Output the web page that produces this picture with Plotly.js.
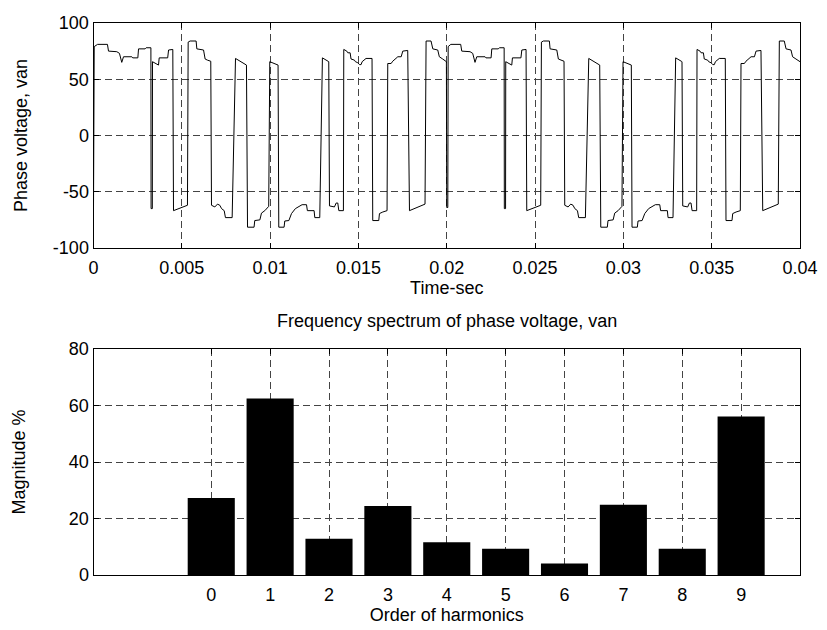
<!DOCTYPE html>
<html>
<head>
<meta charset="utf-8">
<script src="https://cdn.plot.ly/plotly-3.0.1.min.js"></script>
<style>html,body{margin:0;padding:0;background:#fff;}#chart{width:827px;height:630px;}</style>
</head>
<body>
<div id="chart"></div>
<script>
// Phase voltage waveform, first fundamental period (time in s, voltage)
const tPeriod1 = [0, 0.00004, 0.00023, 0.00079, 0.00085, 0.00132, 0.00147, 0.0016, 0.0017, 0.00217,
  0.00222, 0.00251, 0.00255, 0.00292, 0.00298, 0.00325, 0.00326, 0.00333, 0.00334, 0.00368,
  0.00372, 0.0042, 0.00425, 0.00449, 0.00453, 0.00532, 0.00536, 0.00547, 0.00581, 0.00585,
  0.00623, 0.00632, 0.00645, 0.0066, 0.00664, 0.00668, 0.00687, 0.00702, 0.00715, 0.00725,
  0.0074, 0.00747, 0.00785, 0.00804, 0.00866, 0.00872, 0.00909, 0.00913, 0.00942, 0.00951,
  0.0097, 0.00992, 0.00998, 0.01045, 0.01049, 0.01079, 0.01083, 0.01106, 0.01121, 0.01143,
  0.01168, 0.01181, 0.01206, 0.01211, 0.01249, 0.01253, 0.01281, 0.01296, 0.01328, 0.01332,
  0.01336, 0.01364, 0.01374, 0.01383, 0.01389, 0.01415, 0.01417, 0.01434, 0.0144, 0.01453,
  0.01458, 0.01477, 0.01483, 0.01496, 0.01506, 0.01515, 0.01521, 0.01543, 0.01577, 0.01581,
  0.01615, 0.01619, 0.01638, 0.01662, 0.01666, 0.01685, 0.01694, 0.01713, 0.01723, 0.01742,
  0.01751, 0.01779, 0.01789, 0.01877, 0.01881, 0.01883, 0.01911, 0.01921, 0.01949, 0.01958,
  0.01977, 0.01998];
const vPeriod1 = [-64, 79, 81, 81, 75, 74.5, 73, 65, 70, 70,
  69, 69, 77, 77, 78, 78, -65, -65, 65.6, 62.6,
  69, 69, 76, 76.5, -66.8, -62, 83, 84, 84, 77,
  76, 68, 67, 66, 66, -62, -63.5, -61, -62, -65,
  -66.8, -73, -73, 68.5, 62.6, -81.5, -81.5, -75.6, -75, -69,
  -66.8, -63, 65.6, 62.6, -81.5, -81.5, -76, -75.6, -69.4, -65,
  -63, -61.5, -61.5, -66.8, -66.8, -73, -73, 69, 66, 65.6,
  -62.6, -63.5, -60, -60, -66.8, -66.8, 76.5, 75, 73.5, 73.5,
  68, 67, 65.6, 64.7, 63, 63, 65.6, 68.5, 68.5, -75.6,
  -75.6, -69.4, -68, -66.8, 64, 64, 66, 68.5, 70, 70,
  75, 75.6, -66.8, -61, 83, 84, 84, 77, 76, 70,
  68, 65.6];

// Second fundamental period
const tPeriod2 = [0.02, 0.02006, 0.02008, 0.02023, 0.02079, 0.02085, 0.02132, 0.02147, 0.0216, 0.0217,
  0.02217, 0.02222, 0.02251, 0.02255, 0.02292, 0.02298, 0.02325, 0.02326, 0.02333, 0.02334,
  0.02368, 0.02372, 0.0242, 0.02425, 0.02449, 0.02453, 0.02532, 0.02536, 0.02547, 0.02581,
  0.02585, 0.02623, 0.02632, 0.02645, 0.0266, 0.02664, 0.02668, 0.02687, 0.02702, 0.02715,
  0.02725, 0.0274, 0.02747, 0.02785, 0.02804, 0.02866, 0.02872, 0.02909, 0.02913, 0.02942,
  0.02951, 0.0297, 0.02992, 0.02998, 0.03045, 0.03049, 0.03079, 0.03083, 0.03106, 0.03121,
  0.03143, 0.03168, 0.03181, 0.03206, 0.03211, 0.03249, 0.03253, 0.03281, 0.03296, 0.03328,
  0.03332, 0.03336, 0.03364, 0.03374, 0.03383, 0.03389, 0.03415, 0.03417, 0.03434, 0.0344,
  0.03453, 0.03458, 0.03477, 0.03483, 0.03496, 0.03506, 0.03515, 0.03521, 0.03543, 0.03577,
  0.03581, 0.03615, 0.03619, 0.03638, 0.03662, 0.03666, 0.03685, 0.03694, 0.03713, 0.03723,
  0.03742, 0.03751, 0.03779, 0.03789, 0.03877, 0.03881, 0.03883, 0.03911, 0.03921, 0.03949,
  0.03958, 0.03977, 0.04];
const vPeriod2 = [-64, -64, 79, 81, 81, 75, 74.5, 73, 65, 70,
  70, 69, 69, 77, 77, 78, 78, -65, -65, 65.6,
  62.6, 69, 69, 76, 76.5, -66.8, -62, 83, 84, 84,
  77, 76, 68, 67, 66, 66, -62, -63.5, -61, -62,
  -65, -66.8, -73, -73, 68.5, 62.6, -81.5, -81.5, -75.6, -75,
  -69, -66.8, -63, 65.6, 62.6, -81.5, -81.5, -76, -75.6, -69.4,
  -65, -63, -61.5, -61.5, -66.8, -66.8, -73, -73, 69, 66,
  65.6, -62.6, -63.5, -60, -60, -66.8, -66.8, 76.5, 75, 73.5,
  73.5, 68, 67, 65.6, 64.7, 63, 63, 65.6, 68.5, 68.5,
  -75.6, -75.6, -69.4, -68, -66.8, 64, 64, 66, 68.5, 70,
  70, 75, 75.6, -66.8, -61, 83, 84, 84, 77, 76,
  70, 68, 65.6];

// Frequency spectrum
const harmonicOrders = [0, 1, 2, 3, 4, 5, 6, 7, 8, 9];
const magnitudes = [27.3, 62.5, 12.8, 24.4, 11.6, 9.3, 4.1, 24.9, 9.3, 56.1];

// Tick labels
const timeTicks = [0, 0.005, 0.01, 0.015, 0.02, 0.025, 0.03, 0.035, 0.04];
const timeTickText = ['0', '0.005', '0.01', '0.015', '0.02', '0.025', '0.03', '0.035', '0.04'];
const voltTicks = [-100, -50, 0, 50, 100];
const voltTickText = ['-100', '-50', '0', '50', '100'];
const magTicks = [0, 20, 40, 60, 80];

const tAll = tPeriod1.concat(tPeriod2);
const vAll = vPeriod1.concat(vPeriod2);

const FONT = 'Liberation Sans, Arial, sans-serif';
const FS = 18;
const gridStyle = {showgrid: true, gridcolor: '#444', gridwidth: 1, griddash: '7px,4px'};
const axisBase = Object.assign({
  showline: true, linecolor: '#000', linewidth: 1, mirror: 'ticks',
  ticks: 'inside', ticklen: 5, tickcolor: '#000', zeroline: false,
  tickfont: {family: FONT, size: FS, color: '#000'}
}, gridStyle);

const traces = [
  {x: tAll, y: vAll, type: 'scatter', mode: 'lines', xaxis: 'x', yaxis: 'y',
   line: {color: '#000', width: 1}, hoverinfo: 'skip'},
  {x: harmonicOrders, y: magnitudes, type: 'bar', xaxis: 'x2', yaxis: 'y2',
   width: 0.8, marker: {color: '#000', line: {width: 0}}, hoverinfo: 'skip'}
];

const xl = 93.5 / 827, xr = 800 / 827;
const layout = {
  width: 827, height: 630,
  margin: {l: 0, r: 0, t: 0, b: 0},
  paper_bgcolor: '#fff', plot_bgcolor: '#fff',
  showlegend: false,
  font: {family: FONT, size: FS, color: '#000'},
  xaxis: Object.assign({}, axisBase, {
    domain: [xl, xr], anchor: 'y', range: [0, 0.04],
    tickvals: timeTicks, ticktext: timeTickText, ticklabelstandoff: 3,
    title: {text: 'Time-sec', font: {family: FONT, size: FS}, standoff: 4}
  }),
  yaxis: Object.assign({}, axisBase, {
    domain: [1 - 248 / 630, 1 - 23 / 630], anchor: 'x', range: [-100, 100],
    tickvals: voltTicks, ticktext: voltTickText,
    title: {text: 'Phase voltage, van', font: {family: FONT, size: FS}, standoff: 20}
  }),
  xaxis2: Object.assign({}, axisBase, {
    domain: [xl, xr], anchor: 'y2', range: [-2, 10],
    tickvals: harmonicOrders, ticklabelstandoff: 3,
    title: {text: 'Order of harmonics', font: {family: FONT, size: FS}, standoff: 4}
  }),
  yaxis2: Object.assign({}, axisBase, {
    domain: [1 - 575 / 630, 1 - 349 / 630], anchor: 'x2', range: [0, 80],
    tickvals: magTicks,
    title: {text: 'Magnitude %', font: {family: FONT, size: FS}, standoff: 38}
  }),
  annotations: [{
    text: 'Frequency spectrum of phase voltage, van', showarrow: false,
    xref: 'paper', yref: 'paper', x: (xl + xr) / 2, y: 1 - 349 / 630,
    xanchor: 'center', yanchor: 'bottom', yshift: 16,
    font: {family: FONT, size: FS, color: '#000'}
  }]
};

Plotly.newPlot('chart', traces, layout, {staticPlot: true, displayModeBar: false});
</script>
</body>
</html>
